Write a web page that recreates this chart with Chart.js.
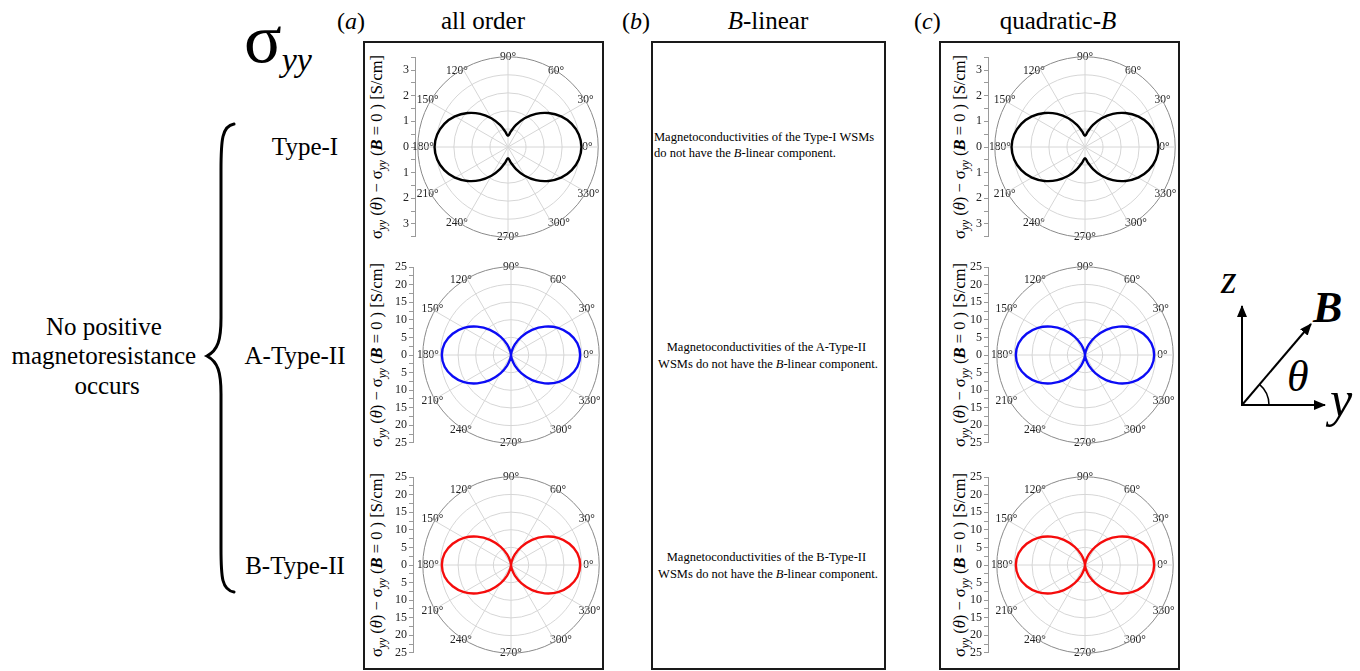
<!DOCTYPE html>
<html>
<head>
<meta charset="utf-8">
<script src="https://cdn.jsdelivr.net/npm/chart.js@4.4.0/dist/chart.umd.min.js"></script>
<style>
  html, body { margin:0; padding:0; background:#fff; }
  body { width:1360px; height:671px; position:relative; overflow:hidden; font-family:'Liberation Serif','Times New Roman',serif; }
  #deco { position:absolute; left:0; top:0; font-family:'Liberation Serif','Times New Roman',serif; }
  #deco text { font-family:'Liberation Serif','Times New Roman',serif; }
  canvas { position:absolute; }
</style>
</head>
<body>
<svg id="deco" width="1360" height="671" viewBox="0 0 1360 671">
  <defs>
    <marker id="ah" markerWidth="12" markerHeight="10" refX="11" refY="5" orient="auto" markerUnits="userSpaceOnUse">
      <path d="M0,0 L12,5 L0,10 z" fill="#000"/>
    </marker>
  </defs>
  <!-- panel frames -->
  <rect x="364" y="42" width="239" height="627" fill="none" stroke="#1a1a1a" stroke-width="2"/>
  <rect x="652" y="42" width="233" height="627" fill="none" stroke="#1a1a1a" stroke-width="2"/>
  <rect x="940" y="42" width="239" height="627" fill="none" stroke="#1a1a1a" stroke-width="2"/>

  <!-- headers -->
  <text x="244" y="62" font-size="70">σ<tspan font-size="34" font-style="italic" dy="9">yy</tspan></text>
  <text x="337" y="29" font-size="24">(<tspan font-style="italic">a</tspan>)</text>
  <text x="483" y="29" font-size="25" text-anchor="middle">all order</text>
  <text x="622" y="29" font-size="24">(<tspan font-style="italic">b</tspan>)</text>
  <text x="768" y="29" font-size="25" text-anchor="middle"><tspan font-style="italic">B</tspan>-linear</text>
  <text x="914" y="29" font-size="24">(<tspan font-style="italic">c</tspan>)</text>
  <text x="1058" y="29" font-size="25" text-anchor="middle">quadratic-<tspan font-style="italic">B</tspan></text>

  <!-- row labels -->
  <text x="305" y="155" font-size="25" text-anchor="middle">Type-I</text>
  <text x="295" y="364" font-size="25" text-anchor="middle">A-Type-II</text>
  <text x="295" y="574" font-size="25" text-anchor="middle">B-Type-II</text>

  <!-- brace -->
  <path d="M 234 124 C 222 126, 221 140, 221 170 L 221 318 C 221 340, 218 350, 207 356 C 218 362, 221 372, 221 394 L 221 548 C 221 578, 222 590, 234 592"
        fill="none" stroke="#000" stroke-width="3" stroke-linecap="round"/>
  <text font-size="25" text-anchor="middle">
    <tspan x="107" y="335">No positive</tspan>
    <tspan x="107" y="364">magnetoresistance</tspan>
    <tspan x="107" y="394">occurs</tspan>
  </text>

  <!-- column (b) notes -->
  <text font-size="12.5">
    <tspan x="654" y="141">Magnetoconductivities of the Type-I WSMs</tspan>
    <tspan x="654" y="157">do not have the <tspan font-style="italic">B</tspan>-linear component.</tspan>
  </text>
  <text font-size="12.5" text-anchor="middle">
    <tspan x="768" y="351">Magnetoconductivities of the A-Type-II</tspan>
    <tspan x="768" y="368">WSMs do not have the <tspan font-style="italic">B</tspan>-linear component.</tspan>
  </text>
  <text font-size="12.5" text-anchor="middle">
    <tspan x="768" y="561">Magnetoconductivities of the B-Type-II</tspan>
    <tspan x="768" y="578">WSMs do not have the <tspan font-style="italic">B</tspan>-linear component.</tspan>
  </text>

  <!-- coordinate sketch -->
  <line x1="1242" y1="405" x2="1242" y2="306" stroke="#000" stroke-width="2" marker-end="url(#ah)"/>
  <line x1="1241" y1="405" x2="1325" y2="405" stroke="#000" stroke-width="2" marker-end="url(#ah)"/>
  <line x1="1242" y1="405" x2="1311" y2="324" stroke="#000" stroke-width="2" marker-end="url(#ah)"/>
  <path d="M 1269 405 A 27 27 0 0 0 1259.5 384.4" fill="none" stroke="#000" stroke-width="1.5"/>
  <text x="1221" y="293" font-size="40" font-style="italic">z</text>
  <text x="1313" y="322" font-size="44" font-style="italic" font-weight="bold">B</text>
  <text x="1287" y="391" font-size="44" font-style="italic">θ</text>
  <text x="1330" y="416" font-size="50" font-style="italic">y</text>

  <g id="ylabels"></g>
</svg>

<script>
// ---------------- data ----------------
// angular positions (clockwise from 0°, as placed by the radial scale)
const angleLabels = ['0°','350°','340°','330°','320°','310°','300°','290°','280°','270°',
                     '260°','250°','240°','230°','220°','210°','200°','190°','180°','170°',
                     '160°','150°','140°','130°','120°','110°','100°','90°','80°','70°',
                     '60°','50°','40°','30°','20°','10°'];

// σyy(θ) − σyy(B=0) [S/cm] read at each angle above
const typeIAllOrder = [2.85,2.79,2.63,2.38,2.05,1.68,1.29,0.91,0.61,0.43,
                       0.61,0.91,1.29,1.68,2.05,2.38,2.63,2.79,2.85,2.79,
                       2.63,2.38,2.05,1.68,1.29,0.91,0.61,0.43,0.61,0.91,
                       1.29,1.68,2.05,2.38,2.63,2.79];
const aTypeIIAllOrder = [19.6,19.1,17.6,15.4,12.5,9.3,6.0,3.2,1.0,0,
                         1.0,3.2,6.0,9.3,12.5,15.4,17.6,19.1,19.6,19.1,
                         17.6,15.4,12.5,9.3,6.0,3.2,1.0,0,1.0,3.2,
                         6.0,9.3,12.5,15.4,17.6,19.1];
const bTypeIIAllOrder = [19.6,19.1,17.6,15.4,12.5,9.3,6.0,3.2,1.0,0,
                         1.0,3.2,6.0,9.3,12.5,15.4,17.6,19.1,19.6,19.1,
                         17.6,15.4,12.5,9.3,6.0,3.2,1.0,0,1.0,3.2,
                         6.0,9.3,12.5,15.4,17.6,19.1];
const typeIQuadraticB = [2.85,2.79,2.63,2.38,2.05,1.68,1.29,0.91,0.61,0.43,
                         0.61,0.91,1.29,1.68,2.05,2.38,2.63,2.79,2.85,2.79,
                         2.63,2.38,2.05,1.68,1.29,0.91,0.61,0.43,0.61,0.91,
                         1.29,1.68,2.05,2.38,2.63,2.79];
const aTypeIIQuadraticB = [19.6,19.1,17.6,15.4,12.5,9.3,6.0,3.2,1.0,0,
                           1.0,3.2,6.0,9.3,12.5,15.4,17.6,19.1,19.6,19.1,
                           17.6,15.4,12.5,9.3,6.0,3.2,1.0,0,1.0,3.2,
                           6.0,9.3,12.5,15.4,17.6,19.1];
const bTypeIIQuadraticB = [19.6,19.1,17.6,15.4,12.5,9.3,6.0,3.2,1.0,0,
                           1.0,3.2,6.0,9.3,12.5,15.4,17.6,19.1,19.6,19.1,
                           17.6,15.4,12.5,9.3,6.0,3.2,1.0,0,1.0,3.2,
                           6.0,9.3,12.5,15.4,17.6,19.1];

// axis ranges / tick spacing
const typeIAxisMax = 3.5, typeIAxisMajor = 1, typeIAxisMinor = 0.5, typeIRing = 0.7;
const typeIIAxisMax = 25, typeIIAxisMajor = 5, typeIIAxisMinor = 2.5, typeIIRing = 5;

// ---------------- layout ----------------
const SERIF = "'Liberation Serif', 'Times New Roman', serif";
Chart.defaults.font.family = SERIF;
const BLACK = '#000000', BLUE = 'rgb(12,12,245)', RED = 'rgb(245,12,12)';

const panels = [
  {v: typeIAllOrder,     c: BLACK, cx: 508,  cy: 147, R: 90, ax: 415, lx: 382, max: typeIAxisMax,  maj: typeIAxisMajor,  min: typeIAxisMinor,  ring: typeIRing},
  {v: aTypeIIAllOrder,   c: BLUE,  cx: 511,  cy: 355, R: 88, ax: 413, lx: 382, max: typeIIAxisMax, maj: typeIIAxisMajor, min: typeIIAxisMinor, ring: typeIIRing},
  {v: bTypeIIAllOrder,   c: RED,   cx: 511,  cy: 565, R: 88, ax: 413, lx: 382, max: typeIIAxisMax, maj: typeIIAxisMajor, min: typeIIAxisMinor, ring: typeIIRing},
  {v: typeIQuadraticB,   c: BLACK, cx: 1085, cy: 147, R: 90, ax: 988, lx: 965, max: typeIAxisMax,  maj: typeIAxisMajor,  min: typeIAxisMinor,  ring: typeIRing},
  {v: aTypeIIQuadraticB, c: BLUE,  cx: 1085, cy: 355, R: 88, ax: 988, lx: 965, max: typeIIAxisMax, maj: typeIIAxisMajor, min: typeIIAxisMinor, ring: typeIIRing},
  {v: bTypeIIQuadraticB, c: RED,   cx: 1085, cy: 565, R: 88, ax: 988, lx: 965, max: typeIIAxisMax, maj: typeIIAxisMajor, min: typeIIAxisMinor, ring: typeIIRing}
];

function newCanvas(w, h) {
  const cv = document.createElement('canvas');
  cv.width = w; cv.height = h;
  cv.style.width = w + 'px'; cv.style.height = h + 'px';
  document.body.appendChild(cv);
  return cv;
}

function labelPadding(label) {
  const a = parseInt(label, 10);
  if (a % 180 === 0) return -16;
  if (a % 180 === 90) return -7;
  return -10;
}

function polarConfig(p) {
  const last = Math.round(p.max / p.ring);
  return {
    type: 'radar',
    data: {
      labels: angleLabels,
      datasets: [{
        data: p.v, borderColor: p.c, borderWidth: 2.4, pointRadius: 0,
        fill: false, backgroundColor: 'rgba(0,0,0,0)', tension: 0.35
      }]
    },
    options: {
      responsive: false, animation: false, events: [],
      layout: { padding: 0 },
      plugins: { legend: { display: false }, tooltip: { enabled: false } },
      scales: {
        r: {
          min: 0, max: p.max, startAngle: 90,
          ticks: { display: false, stepSize: p.ring },
          grid: { circular: true, lineWidth: 1,
                  color: c => c.index === last ? '#8a8a8a' : '#d6d6d6' },
          angleLines: { lineWidth: 1,
                  color: c => (c.index % 3 === 0) ? '#d6d6d6' : 'rgba(0,0,0,0)' },
          pointLabels: {
            callback: (l, i) => (i % 3 === 0 ? l : ''),
            font: { family: SERIF, size: 11.5 },
            color: '#222',
            padding: c => labelPadding(angleLabels[c.index])
          }
        }
      }
    }
  };
}

function axisConfig(p) {
  const isMajor = v => Math.abs(v / p.maj - Math.round(v / p.maj)) < 1e-6;
  return {
    type: 'scatter',
    data: { datasets: [] },
    options: {
      responsive: false, animation: false, events: [],
      layout: { padding: 0 },
      plugins: { legend: { display: false }, tooltip: { enabled: false } },
      scales: {
        x: { display: false, min: 0, max: 1 },
        y: {
          min: -p.max, max: p.max,
          ticks: {
            stepSize: p.min, autoSkip: false, maxTicksLimit: 1000,
            callback: v => isMajor(v) ? String(Math.round(Math.abs(v))) : '',
            font: { family: SERIF, size: 12 }, color: '#222', padding: 2
          },
          grid: { drawOnChartArea: false, tickLength: 4, tickColor: '#9a9a9a', tickWidth: 1 },
          border: { color: '#9a9a9a', width: 1 }
        }
      }
    }
  };
}

function buildPolar(p) {
  let S = 2 * p.R + 30, chart, cv;
  for (let k = 0; k < 5; k++) {
    if (chart) { chart.destroy(); cv.remove(); }
    cv = newCanvas(S, S);
    chart = new Chart(cv, polarConfig(p));
    const D = chart.scales.r.drawingArea;
    if (D === p.R) break;
    S += 2 * (p.R - D);
  }
  const r = chart.scales.r;
  cv.style.left = (p.cx - r.xCenter) + 'px';
  cv.style.top = (p.cy - r.yCenter) + 'px';
}

function buildAxis(p) {
  let H = 2 * p.R + 16, W = 40, chart, cv;
  for (let k = 0; k < 5; k++) {
    if (chart) { chart.destroy(); cv.remove(); }
    cv = newCanvas(W, H);
    chart = new Chart(cv, axisConfig(p));
    const y = chart.scales.y;
    const len = y.bottom - y.top;
    if (Math.abs(len - 2 * p.R) < 0.5) break;
    H = Math.round(H + 2 * p.R - len);
  }
  const y = chart.scales.y;
  cv.style.left = (p.ax - y.right) + 'px';
  cv.style.top = (p.cy - p.R - y.top) + 'px';
}

const NS = 'http://www.w3.org/2000/svg';
function buildYLabel(p) {
  const t = document.createElementNS(NS, 'text');
  t.setAttribute('transform', `translate(${p.lx},${p.cy}) rotate(-90)`);
  t.setAttribute('text-anchor', 'middle');
  t.setAttribute('font-size', '16.5');
  t.innerHTML = 'σ<tspan font-size="11.5" font-style="italic" dy="4">yy</tspan>' +
                '<tspan dy="-4"> (</tspan><tspan font-style="italic">θ</tspan>) − σ' +
                '<tspan font-size="11.5" font-style="italic" dy="4">yy</tspan>' +
                '<tspan dy="-4"> (</tspan><tspan font-style="italic" font-weight="bold">B</tspan> = 0 ) [S/cm]';
  document.getElementById('ylabels').appendChild(t);
}

document.fonts.load("12px 'Liberation Serif'").then(() => {
  panels.forEach(p => { buildYLabel(p); buildAxis(p); buildPolar(p); });
}, () => {
  panels.forEach(p => { buildYLabel(p); buildAxis(p); buildPolar(p); });
});
</script>
</body>
</html>
